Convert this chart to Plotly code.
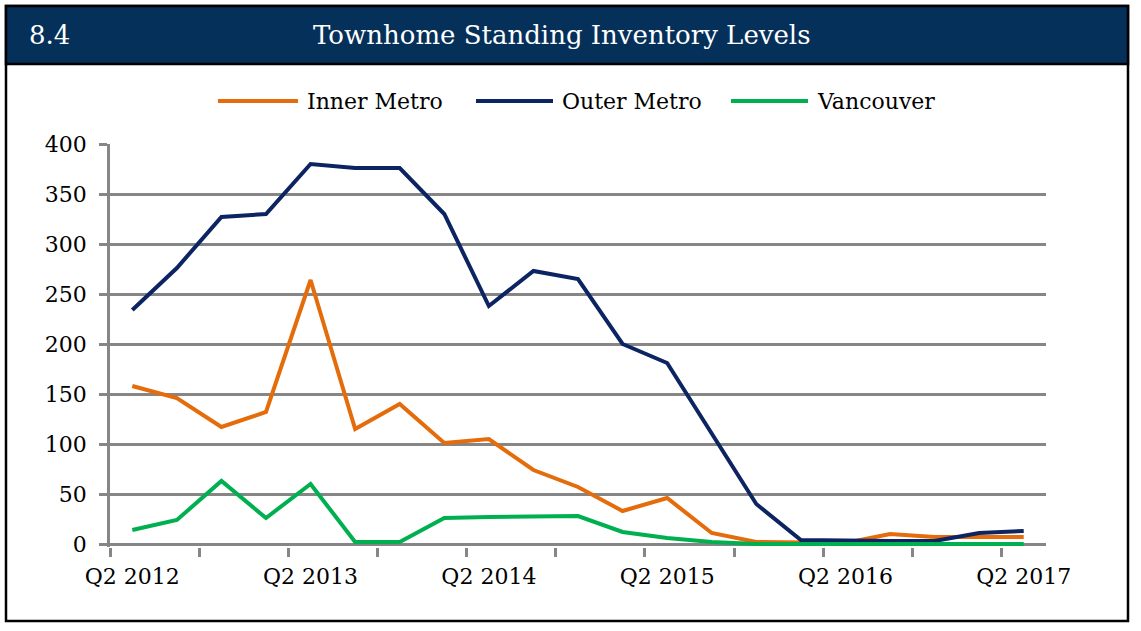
import plotly.graph_objects as go

quarters = ["Q2 2012", "Q3 2012", "Q4 2012", "Q1 2013", "Q2 2013", "Q3 2013", "Q4 2013",
            "Q1 2014", "Q2 2014", "Q3 2014", "Q4 2014", "Q1 2015", "Q2 2015", "Q3 2015",
            "Q4 2015", "Q1 2016", "Q2 2016", "Q3 2016", "Q4 2016", "Q1 2017", "Q2 2017"]
inner_metro = [158, 146, 117, 132, 264, 115, 140, 101, 105, 74, 57, 33, 46, 11, 2, 1, 1, 10, 7, 7, 7]
outer_metro = [234, 276, 327, 330, 380, 376, 376, 330, 238, 273, 265, 200, 181, 110, 40, 4, 3, 3, 3, 11, 13]
vancouver = [14, 24, 63, 26, 60, 2, 2, 26, 27, 27, 28, 12, 6, 2, 0, 0, 0, 0, 0, 0, 0]
y_ticks = [0, 50, 100, 150, 200, 250, 300, 350, 400]
series_names = ["Inner Metro", "Outer Metro", "Vancouver"]
series_colors = ["#E46C0A", "#0C2461", "#00B050"]

W, H = 1141, 631
L, R, T, B = 110, 1046, 144, 547
FONT = "DejaVu Serif"

def px(x):
    return (x - L) / (R - L)

def py(y):
    return (B - y) / (B - T)

x_idx = list(range(len(quarters)))
fig = go.Figure()
for name, vals, col in zip(series_names, [inner_metro, outer_metro, vancouver], series_colors):
    fig.add_trace(go.Scatter(x=x_idx, y=vals, mode="lines", name=name,
                             line=dict(color=col, width=4), showlegend=False))

label_idx = x_idx[::4]
fig.update_layout(
    width=W, height=H,
    margin=dict(l=L, r=W - R, t=T, b=H - B),
    paper_bgcolor="white", plot_bgcolor="white",
    font=dict(family=FONT, color="black", size=22),
    xaxis=dict(range=[-0.5, len(quarters) - 0.5], tickvals=label_idx,
               ticktext=[quarters[i] for i in label_idx],
               ticks="outside", ticklen=10, tickcolor="rgba(0,0,0,0)",
               showgrid=False, zeroline=False, showline=False,
               tickfont=dict(family=FONT, size=22),
               minor=dict(tick0=-0.5, dtick=2, ticks="outside", ticklen=9,
                          tickcolor="#868686", tickwidth=2.5, showgrid=False)),
    yaxis=dict(range=[-3, 400], tickvals=y_ticks, ticks="outside", ticklen=8,
               tickcolor="#868686", tickwidth=2.5, showgrid=True,
               gridcolor="#868686", gridwidth=2.5, zeroline=False,
               showline=True, linecolor="#868686", linewidth=2.5,
               tickfont=dict(family=FONT, size=22), ticklabelstandoff=8,
               layer="below traces"),
)

shapes = []
# outer border
shapes.append(dict(type="rect", xref="paper", yref="paper",
                   x0=px(6), x1=px(1128), y0=py(6), y1=py(621),
                   line=dict(color="black", width=2.5), fillcolor="rgba(0,0,0,0)", layer="below"))
# title bar
shapes.append(dict(type="rect", xref="paper", yref="paper",
                   x0=px(6), x1=px(1128), y0=py(6), y1=py(64),
                   line=dict(color="black", width=2.5), fillcolor="#05305A", layer="below"))
annotations = [
    dict(text="8.4", xref="paper", yref="paper", x=px(27), y=py(35), xanchor="left",
         yanchor="middle", showarrow=False, font=dict(family=FONT, size=26, color="white")),
    dict(text="Townhome Standing Inventory Levels", xref="paper", yref="paper",
         x=px(562), y=py(35), xanchor="center", yanchor="middle", showarrow=False,
         font=dict(family=FONT, size=26, color="white")),
]
# legend
legend_pos = [(218, 298, 305), (476, 553, 560), (731, 808, 815)]
for (lx0, lx1, tx), name, col in zip(legend_pos, series_names, series_colors):
    shapes.append(dict(type="line", xref="paper", yref="paper", x0=px(lx0), x1=px(lx1),
                       y0=py(101), y1=py(101), line=dict(color=col, width=4)))
    annotations.append(dict(text=name, xref="paper", yref="paper", x=px(tx), y=py(101),
                            xanchor="left", yanchor="middle", showarrow=False,
                            font=dict(family=FONT, size=22, color="black")))
fig.update_layout(shapes=shapes, annotations=annotations)
fig.write_html("out.html")
